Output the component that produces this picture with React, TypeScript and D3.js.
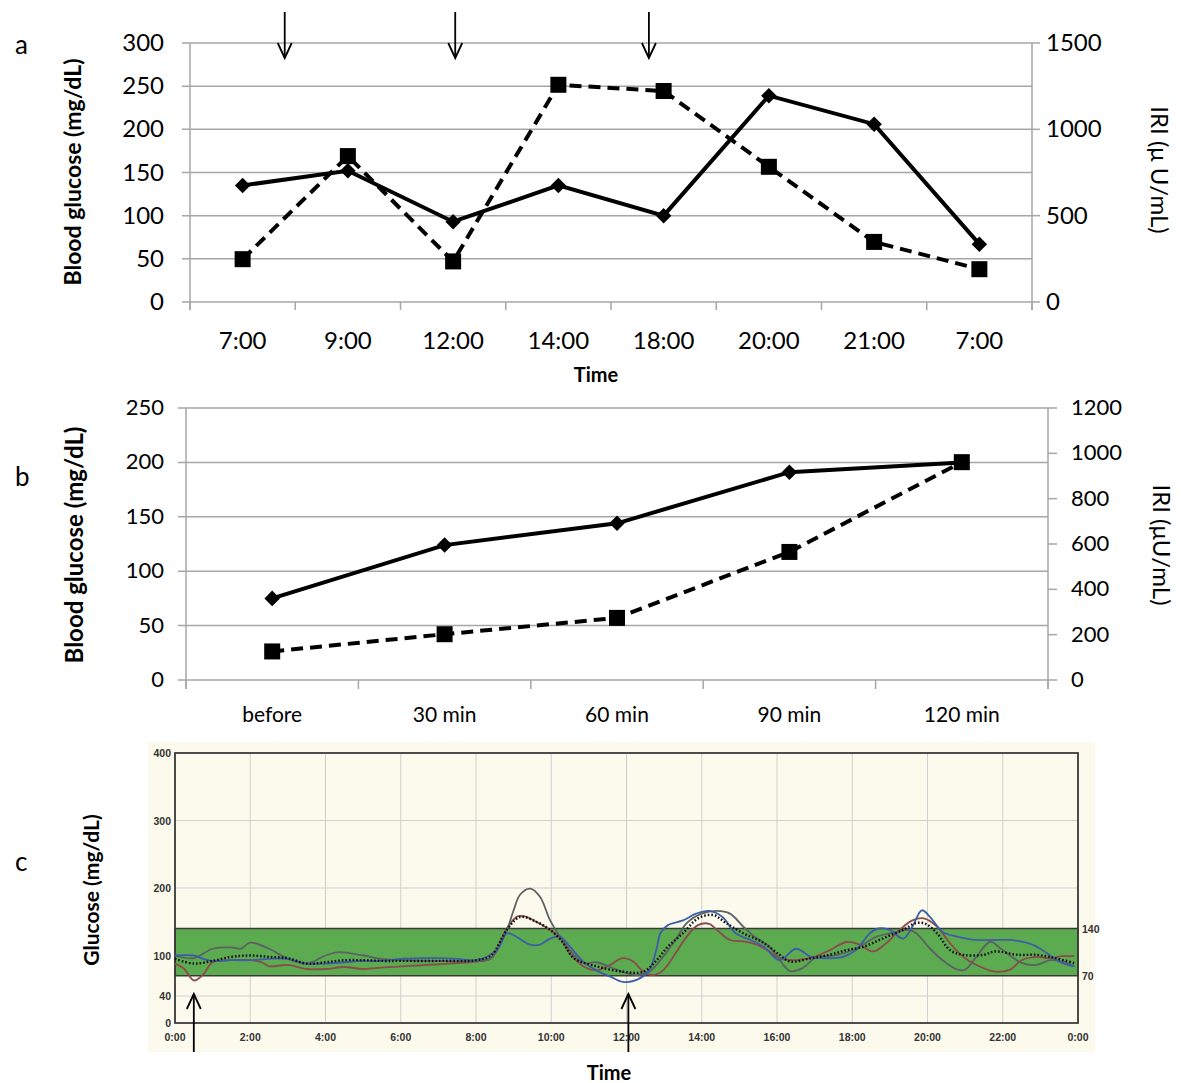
import React from 'react';
import * as d3 from 'd3';

const W = 1183;
const H = 1083;

// panel a
const timeLabels = ['7:00', '9:00', '12:00', '14:00', '18:00', '20:00', '21:00', '7:00'];
const glucoseA = [135, 152, 93, 135, 100, 239, 206, 67];
const iriA = [248, 845, 235, 1258, 1222, 783, 348, 190];
const arrowsA = [0.4, 2.02, 3.86];
const ticksA = [0, 50, 100, 150, 200, 250, 300];
const ticksIriA = [0, 500, 1000, 1500];

// panel b
const minLabels = ['before', '30 min', '60 min', '90 min', '120 min'];
const glucoseB = [75, 124, 144, 191, 200];
const iriB = [126, 202, 274, 565, 961];
const ticksB = [0, 50, 100, 150, 200, 250];
const ticksIriB = [0, 200, 400, 600, 800, 1000, 1200];

// panel c (CGM traces, [hour, mg/dL])
const cgmHours = [0, 2, 4, 6, 8, 10, 12, 14, 16, 18, 20, 22, 24];
const cgmTicks = [0, 40, 100, 200, 300, 400];
const cgmGrid = [40, 100, 200, 300];
const targetRange = [70, 140];
const arrowsC = [0.5, 12.05];

const cgmGray: [number, number][] = [
  [0, 100], [0.5, 96], [1, 110], [1.5, 112], [1.75, 110], [2, 119], [2.5, 110], [3, 95], [3.5, 88],
  [4, 100], [4.35, 105], [5, 100], [5.5, 95], [6, 93], [7, 92], [8, 92], [8.4, 96], [8.82, 138],
  [9.0, 167], [9.17, 190], [9.44, 199], [9.7, 187], [9.97, 152], [10.23, 128], [10.5, 108],
  [10.85, 89], [11.2, 90], [11.56, 83], [12.0, 74], [12.27, 71], [12.6, 76], [12.9, 93],
  [13.3, 123], [13.6, 148], [14.0, 162], [14.4, 166], [14.75, 162], [15.1, 143], [15.4, 128],
  [15.8, 113], [16.0, 99], [16.35, 77], [16.7, 82], [17.0, 96], [17.6, 101], [18.1, 110],
  [18.65, 128], [19.2, 135], [19.5, 138], [19.7, 133], [20.07, 110], [20.4, 93], [20.8, 79],
  [21.0, 79], [21.3, 98], [21.66, 120], [22.0, 108], [22.5, 89], [22.9, 86], [23.25, 93],
  [23.6, 91], [23.9, 84],
];
const cgmRed: [number, number][] = [
  [0, 88], [0.25, 80], [0.5, 63], [0.75, 72], [1, 90], [1.5, 93], [2, 93], [2.3, 90], [2.5, 84],
  [3, 86], [3.5, 80], [4, 80], [4.5, 83], [5, 80], [5.5, 82], [6, 84], [7, 87], [8, 91], [8.4, 96],
  [8.82, 140], [9.1, 158], [9.3, 158], [9.6, 150], [9.97, 138], [10.23, 126], [10.5, 103],
  [10.85, 84], [11.2, 78], [11.56, 86], [11.9, 96], [12.18, 91], [12.45, 76], [12.7, 71],
  [12.97, 78], [13.3, 103], [13.6, 128], [13.9, 145], [14.2, 147], [14.4, 138], [14.75, 123],
  [15.1, 121], [15.46, 116], [15.8, 106], [16.07, 96], [16.5, 93], [17.0, 98], [17.4, 108],
  [17.85, 120], [18.2, 116], [18.55, 106], [18.9, 118], [19.3, 140], [19.6, 152], [19.9, 155],
  [20.25, 143], [20.6, 118], [20.95, 98], [21.3, 86], [21.8, 76], [22.2, 79], [22.5, 93],
  [22.9, 98], [23.25, 96], [23.6, 99], [23.9, 99],
];
const cgmBlue: [number, number][] = [
  [0, 100], [0.5, 100], [0.75, 95], [1, 92], [1.5, 93], [2, 93], [2.5, 95], [3, 95], [3.5, 88],
  [4, 88], [4.5, 90], [5, 92], [5.5, 92], [6, 95], [6.5, 96], [7, 96], [7.5, 95], [8, 93],
  [8.55, 108], [8.82, 133], [9.0, 130], [9.44, 116], [9.7, 116], [9.97, 125], [10.23, 128],
  [10.5, 113], [10.85, 91], [11.2, 78], [11.56, 69], [11.9, 61], [12.27, 64], [12.6, 78],
  [12.8, 110], [12.9, 133], [13.1, 145], [13.5, 152], [13.85, 162], [14.2, 166], [14.55, 157],
  [14.9, 133], [15.3, 123], [15.65, 113], [16.07, 93], [16.5, 110], [16.9, 98], [17.2, 96],
  [17.75, 98], [18.1, 108], [18.47, 133], [18.7, 140], [19.0, 138], [19.35, 125], [19.6, 143],
  [19.85, 167], [20.07, 157], [20.4, 135], [20.8, 128], [21.3, 123], [21.8, 123], [22.2, 123],
  [22.7, 118], [23.0, 110], [23.5, 91], [23.9, 84],
];
const cgmMean: [number, number][] = [
  [0, 95], [0.5, 88], [1, 92], [1.5, 98], [2, 100], [2.5, 98], [3, 96], [3.5, 88], [4, 90],
  [4.5, 93], [5, 93], [5.5, 92], [6, 92], [7, 92], [8, 93], [8.4, 100], [8.82, 138], [9.17, 157],
  [9.6, 150], [9.97, 138], [10.3, 120], [10.6, 96], [11.2, 84], [11.9, 76], [12.45, 76],
  [12.8, 93], [13.1, 113], [13.5, 133], [13.9, 155], [14.3, 160], [14.65, 148], [15.1, 133],
  [15.6, 120], [16.07, 101], [16.35, 91], [16.9, 96], [17.4, 101], [17.85, 108], [18.3, 113],
  [18.8, 125], [19.35, 138], [19.7, 148], [19.95, 147], [20.25, 133], [20.6, 108], [20.95, 101],
  [21.5, 101], [21.8, 106], [22.4, 101], [22.9, 101], [23.4, 96], [23.95, 88],
];

const GRID = '#a6a6a6';
const FONT = 'Lato, "Open Sans", sans-serif';
const ARIAL = '"Liberation Sans", Arial, sans-serif';

function Diamond({ x, y }: { x: number; y: number }) {
  return <rect x={x - 5.5} y={y - 5.5} width={11} height={11} fill="#000" transform={`rotate(45 ${x} ${y})`} />;
}
function Square({ x, y }: { x: number; y: number }) {
  return <rect x={x - 8} y={y - 8} width={16} height={16} fill="#000" />;
}

function ArrowV({ x, y1, y2 }: { x: number; y1: number; y2: number }) {
  // arrow from y1 (tail) to y2 (tip)
  const dir = y2 > y1 ? -1 : 1;
  return (
    <g stroke="#000" strokeWidth={1.8} fill="none">
      <line x1={x} y1={y1} x2={x} y2={y2} />
      <polyline points={`${x - 7},${y2 + dir * 15} ${x},${y2} ${x + 7},${y2 + dir * 15}`} />
    </g>
  );
}

function PanelA() {
  const x = d3.scaleLinear().domain([-0.5, timeLabels.length - 0.5]).range([190, 1032]);
  const y = d3.scaleLinear().domain([0, 300]).range([302, 43]);
  const yR = d3.scaleLinear().domain([0, 1500]).range([302, 43]);
  const lineG = d3.line<number>().x((_, i) => x(i)).y((d) => y(d));
  const lineI = d3.line<number>().x((_, i) => x(i)).y((d) => yR(d));
  const bounds = d3.range(-0.5, timeLabels.length, 1);
  const [x0, x1] = x.range();
  return (
    <g>
      <text x={15} y={54} fontFamily={FONT} fontSize={26}>a</text>
      {ticksA.map((t) => (
        <g key={t}>
          <line x1={x0 - 8} x2={x1} y1={y(t)} y2={y(t)} stroke={GRID} strokeWidth={1.5} />
          <text x={164} y={y(t) + 8} textAnchor="end" fontFamily={FONT} fontSize={24}>{t}</text>
        </g>
      ))}
      {ticksIriA.map((t) => (
        <g key={t}>
          <line x1={x1} x2={x1 + 8} y1={yR(t)} y2={yR(t)} stroke={GRID} strokeWidth={1.5} />
          <text x={1046} y={yR(t) + 8} fontFamily={FONT} fontSize={24}>{t}</text>
        </g>
      ))}
      <line x1={x0} x2={x0} y1={43} y2={310} stroke={GRID} strokeWidth={1.5} />
      <line x1={x1} x2={x1} y1={43} y2={310} stroke={GRID} strokeWidth={1.5} />
      {bounds.map((b) => (
        <line key={b} x1={x(b)} x2={x(b)} y1={302} y2={310} stroke={GRID} strokeWidth={1.5} />
      ))}
      {timeLabels.map((l, i) => (
        <text key={i} x={x(i)} y={349} textAnchor="middle" fontFamily={FONT} fontSize={24}>{l}</text>
      ))}
      <text x={596} y={382} textAnchor="middle" fontFamily={FONT} fontSize={20} fontWeight="bold">Time</text>
      <text transform="translate(81,172) rotate(-90)" textAnchor="middle" fontFamily={FONT} fontSize={23} fontWeight="bold">
        Blood glucose (mg/dL)
      </text>
      <text transform="translate(1151,170) rotate(90)" textAnchor="middle" fontFamily={FONT} fontSize={24}>
        IRI (μ U/mL)
      </text>
      <path d={lineI(iriA) || ''} fill="none" stroke="#000" strokeWidth={4} strokeDasharray="12 7" />
      <path d={lineG(glucoseA) || ''} fill="none" stroke="#000" strokeWidth={4} />
      {glucoseA.map((v, i) => <Diamond key={i} x={x(i)} y={y(v)} />)}
      {iriA.map((v, i) => <Square key={i} x={x(i)} y={yR(v)} />)}
      {arrowsA.map((a, i) => <ArrowV key={i} x={x(a)} y1={12} y2={58} />)}
    </g>
  );
}

function PanelB() {
  const x = d3.scaleLinear().domain([-0.5, minLabels.length - 0.5]).range([186, 1048]);
  const y = d3.scaleLinear().domain([0, 250]).range([680, 408]);
  const yR = d3.scaleLinear().domain([0, 1200]).range([680, 408]);
  const lineG = d3.line<number>().x((_, i) => x(i)).y((d) => y(d));
  const lineI = d3.line<number>().x((_, i) => x(i)).y((d) => yR(d));
  const bounds = d3.range(-0.5, minLabels.length, 1);
  const [x0, x1] = x.range();
  return (
    <g>
      <text x={15} y={486} fontFamily={FONT} fontSize={26}>b</text>
      {ticksB.map((t) => (
        <g key={t}>
          <line x1={x0 - 8} x2={x1} y1={y(t)} y2={y(t)} stroke={GRID} strokeWidth={1.5} />
          <text x={164} y={y(t) + 7} textAnchor="end" fontFamily={FONT} fontSize={22}>{t}</text>
        </g>
      ))}
      {ticksIriB.map((t) => (
        <g key={t}>
          <line x1={x1} x2={x1 + 9} y1={yR(t)} y2={yR(t)} stroke={GRID} strokeWidth={1.5} />
          <text x={1071} y={yR(t) + 7} fontFamily={FONT} fontSize={22}>{t}</text>
        </g>
      ))}
      <line x1={x0} x2={x0} y1={408} y2={689} stroke={GRID} strokeWidth={1.5} />
      <line x1={x1} x2={x1} y1={408} y2={689} stroke={GRID} strokeWidth={1.5} />
      {bounds.map((b) => (
        <line key={b} x1={x(b)} x2={x(b)} y1={680} y2={689} stroke={GRID} strokeWidth={1.5} />
      ))}
      {minLabels.map((l, i) => (
        <text key={i} x={x(i)} y={722} textAnchor="middle" fontFamily={FONT} fontSize={21}>{l}</text>
      ))}
      <text transform="translate(83,545) rotate(-90)" textAnchor="middle" fontFamily={FONT} fontSize={24} fontWeight="bold">
        Blood glucose (mg/dL)
      </text>
      <text transform="translate(1153,545) rotate(90)" textAnchor="middle" fontFamily={FONT} fontSize={24}>
        IRI (μU/mL)
      </text>
      <path d={lineI(iriB) || ''} fill="none" stroke="#000" strokeWidth={4} strokeDasharray="12 7" />
      <path d={lineG(glucoseB) || ''} fill="none" stroke="#000" strokeWidth={4} />
      {glucoseB.map((v, i) => <Diamond key={i} x={x(i)} y={y(v)} />)}
      {iriB.map((v, i) => <Square key={i} x={x(i)} y={yR(v)} />)}
    </g>
  );
}

function PanelC() {
  const x = d3.scaleLinear().domain([0, 24]).range([175, 1078]);
  const y = d3.scaleLinear().domain([0, 400]).range([1023, 753]);
  const line = d3
    .line<[number, number]>()
    .x((d) => x(d[0]))
    .y((d) => y(d[1]))
    .curve(d3.curveCatmullRom.alpha(0.5));
  const traces: { data: [number, number][]; color: string }[] = [
    { data: cgmRed, color: '#8c4a4c' },
    { data: cgmGray, color: '#5a6262' },
    { data: cgmBlue, color: '#3d5ea6' },
  ];
  return (
    <g>
      <rect x={148} y={742} width={947} height={310} fill="#fcfaed" />
      <text x={15} y={871} fontFamily={FONT} fontSize={26}>c</text>
      {cgmHours.map((h) => (
        <line key={h} x1={x(h)} x2={x(h)} y1={753} y2={1023} stroke="#cfcfcf" strokeWidth={1} />
      ))}
      {cgmGrid.map((g) => (
        <line key={g} x1={175} x2={1078} y1={y(g)} y2={y(g)} stroke="#cfcfcf" strokeWidth={1} />
      ))}
      <rect
        x={175}
        y={y(targetRange[1])}
        width={903}
        height={y(targetRange[0]) - y(targetRange[1])}
        fill="#5dab50"
        stroke="#3a3a3a"
        strokeWidth={1.5}
      />
      <rect x={175} y={753} width={903} height={270} fill="none" stroke="#3a3a3a" strokeWidth={1.8} />
      {traces.map((t, i) => (
        <path key={i} d={line(t.data) || ''} fill="none" stroke={t.color} strokeWidth={1.8} />
      ))}
      <path
        d={line(cgmMean) || ''}
        fill="none"
        stroke="#111"
        strokeWidth={2.4}
        strokeDasharray="1.6 2"
      />
      {cgmTicks.map((t) => (
        <text key={t} x={171} y={y(t) + 4} textAnchor="end" fontFamily={ARIAL} fontSize={10.5} fontWeight="bold" fill="#333">
          {t}
        </text>
      ))}
      {cgmHours.map((h) => (
        <text key={h} x={x(h)} y={1041} textAnchor="middle" fontFamily={ARIAL} fontSize={10.5} fontWeight="bold" fill="#333">
          {`${h % 24}:00`}
        </text>
      ))}
      {targetRange.map((t) => (
        <text key={t} x={1082} y={y(t) + 4} fontFamily={ARIAL} fontSize={10.5} fontWeight="bold" fill="#333">
          {t}
        </text>
      ))}
      <text transform="translate(99,890) rotate(-90)" textAnchor="middle" fontFamily={FONT} fontSize={21} fontWeight="bold">
        Glucose (mg/dL)
      </text>
      <text x={609} y={1080} textAnchor="middle" fontFamily={FONT} fontSize={20} fontWeight="bold">Time</text>
      {arrowsC.map((a, i) => <ArrowV key={i} x={x(a)} y1={1052} y2={994} />)}
    </g>
  );
}

export default function App() {
  return (
    <svg width={W} height={H} style={{ position: 'absolute', left: 0, top: 0, background: '#fff' }}>
      <rect width={W} height={H} fill="#fff" />
      <PanelA />
      <PanelB />
      <PanelC />
    </svg>
  );
}
